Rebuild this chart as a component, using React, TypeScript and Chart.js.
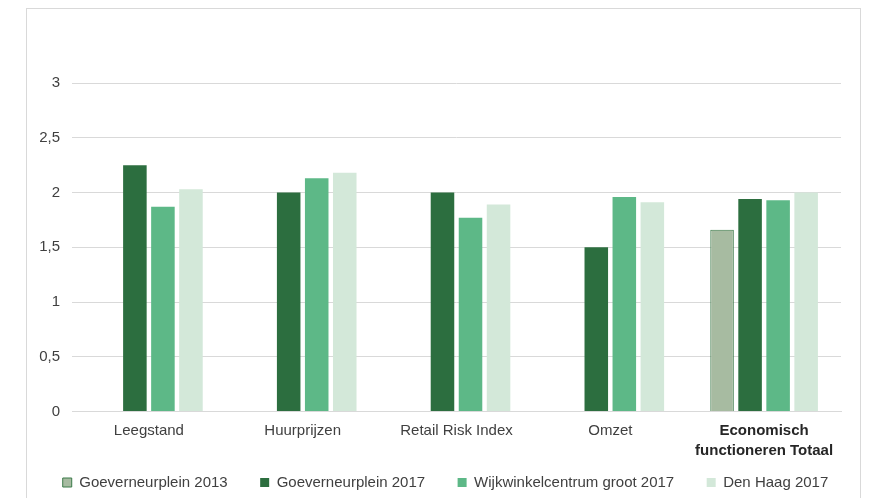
import React, { useEffect, useRef } from "react";
import { Chart, registerables } from "chart.js";

Chart.register(...registerables);

const categories: (string | string[])[] = [
  "Leegstand",
  "Huurprijzen",
  "Retail Risk Index",
  "Omzet",
  ["Economisch", "functioneren Totaal"],
];
const goeverneurplein2013: (number | null)[] = [null, null, null, null, 1.66];
const goeverneurplein2017: number[] = [2.25, 2.0, 2.0, 1.5, 1.94];
const wijkwinkelcentrum2017: number[] = [1.87, 2.13, 1.77, 1.96, 1.93];
const denHaag2017: number[] = [2.03, 2.18, 1.89, 1.91, 2.0];
const yTicks: number[] = [0, 0.5, 1, 1.5, 2, 2.5, 3];

export default function App() {
  const ref = useRef<HTMLCanvasElement | null>(null);
  useEffect(() => {
    if (!ref.current) return;
    const font = "'Liberation Sans', Arial, sans-serif";
    const chart = new Chart(ref.current, {
      type: "bar",
      data: {
        labels: categories,
        datasets: [
          {
            label: "Goeverneurplein 2013",
            data: goeverneurplein2013,
            backgroundColor: "#a7bba1",
            borderColor: "#3b7a49",
            borderWidth: 1,
          },
          {
            label: "Goeverneurplein 2017",
            data: goeverneurplein2017,
            backgroundColor: "#2c6e3f",
            borderColor: "#2c6e3f",
            borderWidth: 0,
          },
          {
            label: "Wijkwinkelcentrum groot 2017",
            data: wijkwinkelcentrum2017,
            backgroundColor: "#5db887",
            borderColor: "#5db887",
            borderWidth: 0,
          },
          {
            label: "Den Haag 2017",
            data: denHaag2017,
            backgroundColor: "#d3e8d9",
            borderColor: "#d3e8d9",
            borderWidth: 0,
          },
        ],
      },
      options: {
        animation: false,
        responsive: false,
        maintainAspectRatio: false,
        layout: { padding: { top: 83, right: 0, left: 20, bottom: 0 } },
        datasets: {
          bar: { categoryPercentage: 0.729, barPercentage: 0.84 },
        },
        plugins: {
          tooltip: { enabled: false },
          legend: {
            position: "bottom",
            maxHeight: 55.5,
            labels: {
              font: { family: font, size: 15 },
              color: "#404040",
              boxWidth: 9,
              boxHeight: 9,
              padding: 32.5,
            },
          },
        },
        scales: {
          x: {
            grid: { display: false, drawTicks: false },
            border: { display: true, color: "#d9d9d9" },
            ticks: {
              padding: 9,
              maxRotation: 0,
              autoSkip: false,
              color: (ctx: any) => (ctx.index === 4 ? "#262626" : "#404040"),
              font: (ctx: any) =>
                ctx.index === 4
                  ? { family: font, size: 15, weight: "bold", lineHeight: 1.33 }
                  : { family: font, size: 15, lineHeight: 1.33 },
            },
            afterFit: (s: any) => {
              s.height = 31;
              s._computeLabelArea = () => ({
                top: 0,
                left: 0,
                bottom: s.chart.height,
                right: s.chart.width,
              });
            },
          },
          y: {
            min: 0,
            max: 3,
            afterBuildTicks: (s: any) => {
              s.ticks = yTicks.map((v) => ({ value: v }));
            },
            grid: { color: "#d9d9d9", drawTicks: false },
            border: { display: false },
            ticks: {
              padding: 12,
              color: "#404040",
              font: { family: font, size: 15 },
              callback: (v: any) => String(v).replace(".", ","),
            },
            afterFit: (s: any) => {
              s.width = 52;
            },
          },
          yRight: {
            position: "right",
            min: 0,
            max: 3,
            grid: { display: false, drawTicks: false },
            border: { display: false },
            ticks: { display: false },
            afterFit: (s: any) => {
              s.width = 30;
            },
          },
        },
      },
    });
    return () => chart.destroy();
  }, []);
  return (
    <div style={{ position: "absolute", left: 0, top: 0, width: 871, height: 498, background: "#fff", overflow: "hidden" }}>
      <div
        style={{
          position: "absolute",
          left: 26,
          top: 8,
          width: 835,
          height: 520,
          border: "1px solid #d9d9d9",
          boxSizing: "border-box",
        }}
      />
      <canvas ref={ref} width={871} height={498} style={{ position: "absolute", left: 0, top: 0 }} />
    </div>
  );
}
